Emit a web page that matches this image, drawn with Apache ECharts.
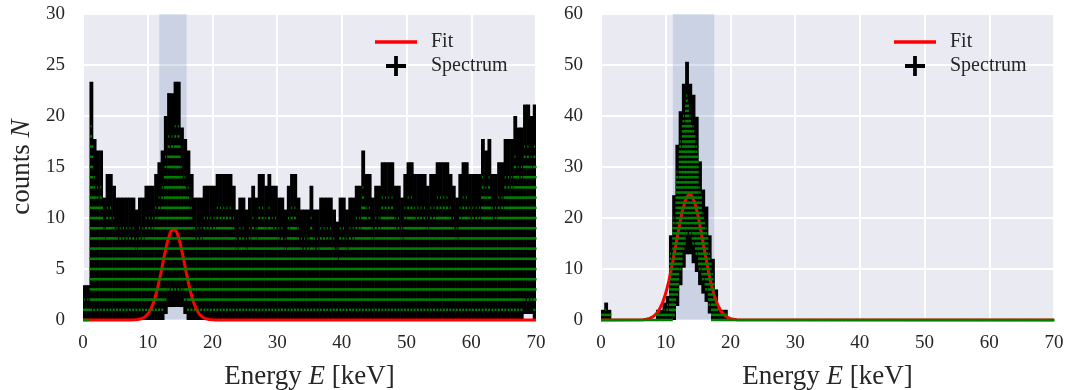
<!DOCTYPE html>
<html>
<head>
<meta charset="utf-8">
<script src="https://cdn.jsdelivr.net/npm/echarts@6/dist/echarts.min.js"></script>
<style>
html,body{margin:0;padding:0;background:#ffffff;}
#chart{width:1067px;height:390px;}
</style>
</head>
<body>
<div id="chart"></div>
<script>
// ---------------- data ----------------
// Spectrum, summarised per 0.5 keV energy slice:
// highest and lowest bin count found inside each slice.
const binWidth = 0.5; // keV

const leftCountsHigh = [
  2,2,19,14,13,13,9,11,11,10,
  9,9,9,9,9,9,8,9,9,10,
  10,10,11,12,13,16,18,18,19,19,
  15,14,13,11,9,9,9,10,10,10,
  10,11,11,11,11,11,10,8,9,9,
  8,9,10,9,11,11,10,11,10,10,
  9,9,8,10,11,11,9,8,8,8,
  10,8,8,9,9,9,9,8,7,9,
  9,8,9,9,10,10,13,11,11,9,
  10,10,12,12,12,12,10,10,9,11,
  12,12,11,11,11,11,10,11,11,12,
  12,12,12,11,10,9,11,12,12,11,
  11,11,11,14,13,14,11,11,12,12,
  14,14,14,16,15,15,17,17,16,17
];
const leftCountsLow = [
  0,0,1,1,1,1,1,1,1,1,
  1,1,1,1,1,1,1,1,1,1,
  1,1,1,1,1,2,3,3,3,3,
  3,2,1,1,1,1,1,1,1,1,
  1,1,1,1,1,1,1,1,1,1,
  1,1,1,1,1,1,1,1,1,1,
  1,1,1,1,1,1,1,1,1,1,
  1,1,1,1,1,1,1,1,1,1,
  1,1,1,1,1,1,1,1,1,1,
  1,1,1,1,1,1,1,1,1,1,
  1,1,1,1,1,1,1,1,1,1,
  1,1,1,1,1,1,1,1,1,1,
  1,1,1,1,1,1,1,1,1,1,
  1,1,1,1,1,1,2,2,2,1
];

const rightCountsHigh = [
  1,2,1,0,0,0,0,0,0,0,
  0,0,0,0,0,0,0,1,1,2,
  3,13,20,29,35,40,44,40,38,34,
  26,21,18,13,9,4,1,1,1,0,
  0,0,0,0,0,0,0,0,0,0,
  0,0,0,0,0,0,0,0,0,0,
  0,0,0,0,0,0,0,0,0,0,
  0,0,0,0,0,0,0,0,0,0,
  0,0,0,0,0,0,0,0,0,0,
  0,0,0,0,0,0,0,0,0,0,
  0,0,0,0,0,0,0,0,0,0,
  0,0,0,0,0,0,0,0,0,0,
  0,0,0,0,0,0,0,0,0,0,
  0,0,0,0,0,0,0,0,0,0
];
const rightCountsLow = [
  0,0,0,0,0,0,0,0,0,0,
  0,0,0,0,0,0,0,0,0,0,
  0,0,1,5,10,14,17,17,15,13,
  10,8,6,3,0,0,0,0,0,0,
  0,0,0,0,0,0,0,0,0,0,
  0,0,0,0,0,0,0,0,0,0,
  0,0,0,0,0,0,0,0,0,0,
  0,0,0,0,0,0,0,0,0,0,
  0,0,0,0,0,0,0,0,0,0,
  0,0,0,0,0,0,0,0,0,0,
  0,0,0,0,0,0,0,0,0,0,
  0,0,0,0,0,0,0,0,0,0,
  0,0,0,0,0,0,0,0,0,0,
  0,0,0,0,0,0,0,0,0,0
];

// Fit curves (energy in keV, counts)
const leftFitE = [0,7,7.5,8,8.5,9,9.5,10,10.5,11,11.5,12,12.5,13,13.5,14,14.5,15,15.5,16,16.5,17,17.5,18,18.5,19,19.5,20,20.5,21,70];
const leftFitN = [0,0,0.01,0.02,0.05,0.12,0.27,0.57,1.08,1.90,3.05,4.50,6.10,7.57,8.62,9.0,8.62,7.57,6.10,4.50,3.05,1.90,1.08,0.57,0.27,0.12,0.05,0.02,0.01,0,0];
const rightFitE = [0,6.5,7,7.5,8,8.5,9,9.5,10,10.5,11,11.5,12,12.5,13,13.5,14,14.5,15,15.5,16,16.5,17,17.5,18,18.5,19,19.5,20,20.5,21,70];
const rightFitN = [0,0.07,0.15,0.32,0.62,1.15,2.02,3.34,5.23,7.74,10.81,14.27,17.80,20.98,23.37,24.59,24.45,22.97,20.39,17.11,13.56,10.15,7.19,4.80,3.04,1.81,1.02,0.55,0.27,0.13,0.06,0];

// Shaded fit windows (keV)
const leftWindow = [11.8, 16.0];
const rightWindow = [11.1, 17.5];

const legendNames = ['Fit', 'Spectrum'];
const xAxisTitle = 'Energy {i|E} [keV]';
const yAxisTitle = 'counts {i|N}';

// ---------------- chart ----------------
const font = 'Liberation Serif';
const textColor = '#262626';

function toBins(hi, lo) {
  return hi.map((h, i) => [i * binWidth, (i + 1) * binWidth, h, lo[i]]);
}
function toLine(es, ns) {
  return es.map((e, i) => [e, ns[i]]);
}

// black error bars: each count N spans N - sqrt(N) .. N + sqrt(N)
function blackRender(params, api) {
  const x0 = api.value(0), x1 = api.value(1), hi = api.value(2), lo = api.value(3);
  if (hi <= 0) return null;
  const top = hi + Math.sqrt(hi);
  const bot = Math.max(0, lo - Math.sqrt(lo));
  const p0 = api.coord([x0, top]);
  const p1 = api.coord([x1, bot]);
  return {
    type: 'rect',
    shape: { x: p0[0], y: p0[1], width: p1[0] - p0[0] + 0.6, height: p1[1] - p0[1] },
    style: { fill: '#000000' }
  };
}
// green markers at every integer count present in the slice
function greenRender(params, api) {
  const x0 = api.value(0), x1 = api.value(1), hi = api.value(2), lo = api.value(3);
  const a = api.coord([x0, 0])[0], b = api.coord([x1, 0])[0];
  const w = b - a;
  const span = hi - lo;
  const children = [];
  for (let k = lo; k <= hi; k++) {
    let f = 1;
    if (span >= 2 && k === hi) f = 0.3;
    else if (span >= 3 && k === hi - 1) f = 0.6;
    else if (span >= 3 && k === lo && k > 0) f = 0.6;
    const y = api.coord([x0, k])[1];
    const ww = w * f + (f === 1 ? 0.6 : 0);
    children.push({
      type: 'rect',
      shape: { x: a + (w - w * f) / 2, y: y - 1.25, width: ww, height: 2.5 },
      style: { fill: '#008000' }
    });
  }
  return { type: 'group', children };
}

function makeX(gridIndex) {
  return {
    type: 'value', gridIndex, min: 0, max: 70, interval: 10,
    axisLine: { show: false }, axisTick: { show: false },
    splitLine: { show: true, lineStyle: { color: '#ffffff', width: 2 } },
    axisLabel: { fontFamily: font, fontSize: 19, color: textColor, margin: 14 },
    name: xAxisTitle, nameLocation: 'middle', nameGap: 43,
    nameTextStyle: {
      fontFamily: font, fontSize: 27, color: textColor,
      rich: { i: { fontFamily: font, fontSize: 27, fontStyle: 'italic', color: textColor } }
    }
  };
}
function makeY(gridIndex, max, interval, withName) {
  const ax = {
    type: 'value', gridIndex, min: 0, max, interval,
    axisLine: { show: false }, axisTick: { show: false },
    splitLine: { show: true, lineStyle: { color: '#ffffff', width: 2 } },
    axisLabel: { fontFamily: font, fontSize: 19, color: textColor, margin: 18 }
  };
  if (withName) {
    ax.name = yAxisTitle;
    ax.nameLocation = 'middle';
    ax.nameGap = 48;
    ax.nameTextStyle = {
      fontFamily: font, fontSize: 27, color: textColor,
      rich: { i: { fontFamily: font, fontSize: 27, fontStyle: 'italic', color: textColor } }
    };
  }
  return ax;
}

const fitIcon = 'path://M0,0h42v3.6h-42z';
const plusIcon = 'path://M7.3,0h3.4v7.3h7.3v3.4h-7.3v7.3h-3.4v-7.3h-7.3v-3.4h7.3z';

function makeLegend(left) {
  return {
    left, top: 27, orient: 'vertical', selectedMode: false,
    itemWidth: 42, itemHeight: 20, itemGap: 4,
    textStyle: { fontFamily: font, fontSize: 20, color: textColor, padding: [0, 0, 0, 9] },
    data: [
      { name: legendNames[0], icon: fitIcon, itemStyle: { color: '#ff0000', borderWidth: 0 } },
      { name: legendNames[1], icon: plusIcon, itemStyle: { color: '#000000', borderWidth: 0 } }
    ]
  };
}

function panelSeries(idx, hi, lo, fitE, fitN, win) {
  return [
    {
      type: 'line', xAxisIndex: idx, yAxisIndex: idx, data: [], z: 1, silent: true,
      markArea: {
        silent: true,
        itemStyle: { color: 'rgba(76,114,176,0.2)' },
        data: [[{ xAxis: win[0] }, { xAxis: win[1] }]]
      }
    },
    {
      type: 'custom', name: legendNames[1], xAxisIndex: idx, yAxisIndex: idx,
      renderItem: blackRender, data: toBins(hi, lo), z: 2, clip: true,
      encode: { x: [0, 1], y: [2, 3] }, itemStyle: { color: '#000000' }
    },
    {
      type: 'line', name: legendNames[0], xAxisIndex: idx, yAxisIndex: idx,
      data: toLine(fitE, fitN), showSymbol: false, symbol: 'none', clip: false,
      lineStyle: { color: '#ff0000', width: 3 }, itemStyle: { color: '#ff0000' }, z: 3
    },
    {
      type: 'custom', name: legendNames[1], xAxisIndex: idx, yAxisIndex: idx,
      renderItem: greenRender, data: toBins(hi, lo), z: 4, clip: false,
      encode: { x: [0, 1], y: [2, 3] }, itemStyle: { color: '#008000' }
    }
  ];
}

const chart = echarts.init(document.getElementById('chart'), null, { renderer: 'canvas' });
chart.setOption({
  animation: false,
  backgroundColor: '#ffffff',
  grid: [
    { left: 83, right: 531, top: 14, bottom: 70, show: true, backgroundColor: '#EAEAF2', borderWidth: 0, outerBoundsMode: 'none', containLabel: false },
    { left: 601, right: 13, top: 14, bottom: 70, show: true, backgroundColor: '#EAEAF2', borderWidth: 0, outerBoundsMode: 'none', containLabel: false }
  ],
  xAxis: [makeX(0), makeX(1)],
  yAxis: [makeY(0, 30, 5, true), makeY(1, 60, 10, false)],
  legend: [makeLegend(370), makeLegend(889)],
  series: [
    ...panelSeries(0, leftCountsHigh, leftCountsLow, leftFitE, leftFitN, leftWindow),
    ...panelSeries(1, rightCountsHigh, rightCountsLow, rightFitE, rightFitN, rightWindow)
  ]
});
</script>
</body>
</html>
